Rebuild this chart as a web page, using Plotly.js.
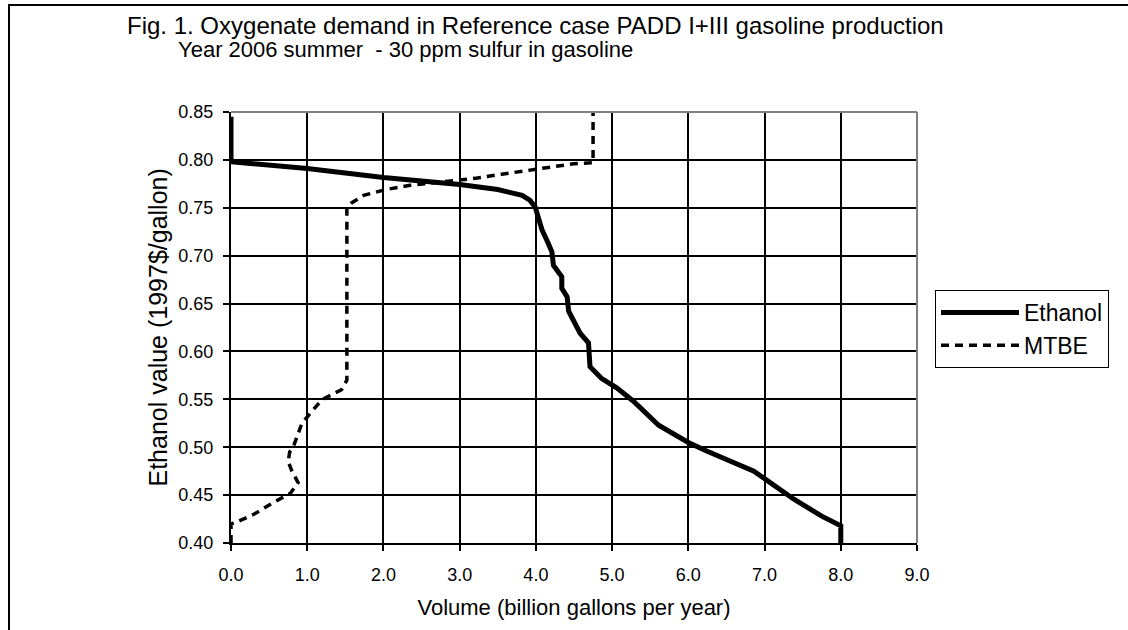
<!DOCTYPE html>
<html>
<head>
<meta charset="utf-8">
<script src="https://cdn.plot.ly/plotly-3.0.1.min.js"></script>
<style>html,body{margin:0;padding:0;background:#fff;}#chart{width:1128px;height:630px;}</style>
</head>
<body>
<div id="chart"></div>
<script>
// Ethanol demand curve (billion gal/yr vs $/gal)
var ethanolVolume = [0, 0, 1, 2, 3, 3.5, 3.82, 3.92, 3.99, 4.03, 4.08, 4.15, 4.21, 4.23, 4.34, 4.34, 4.41, 4.43, 4.58, 4.69, 4.71, 4.86, 5.06, 5.28, 5.61, 6.0, 6.24, 6.86, 7.38, 7.75, 8.0, 8.0];
var ethanolValue  = [0.845, 0.798, 0.791, 0.7817, 0.7744, 0.769, 0.763, 0.758, 0.751, 0.740, 0.727, 0.715, 0.704, 0.690, 0.678, 0.666, 0.657, 0.642, 0.619, 0.609, 0.584, 0.572, 0.562, 0.548, 0.523, 0.505, 0.496, 0.475, 0.446, 0.428, 0.418, 0.40];
// MTBE curve
var mtbeVolume = [0, 0, 0.05, 0.3, 0.55, 0.78, 0.88, 0.8, 0.75, 0.77, 0.83, 0.93, 1.1, 1.2, 1.45, 1.52, 1.52, 1.58, 1.74, 2.03, 2.35, 2.94, 3.23, 3.55, 3.92, 4.21, 4.5, 4.75, 4.75];
var mtbeValue  = [0.40, 0.42, 0.421, 0.43, 0.442, 0.452, 0.463, 0.475, 0.485, 0.495, 0.503, 0.525, 0.541, 0.55, 0.56, 0.57, 0.751, 0.755, 0.763, 0.769, 0.7735, 0.779, 0.781, 0.785, 0.789, 0.7925, 0.796, 0.797, 0.85];

var xTickVals = [0,1,2,3,4,5,6,7,8,9];
var xTickText = ["0.0","1.0","2.0","3.0","4.0","5.0","6.0","7.0","8.0","9.0"];
var yTickVals = [0.40,0.45,0.50,0.55,0.60,0.65,0.70,0.75,0.80,0.85];
var yTickText = ["0.40","0.45","0.50","0.55","0.60","0.65","0.70","0.75","0.80","0.85"];

var titleLine1 = "Fig. 1. Oxygenate demand in Reference case PADD I+III gasoline production";
var titleLine2 = "Year 2006 summer  - 30 ppm sulfur in gasoline";
var xTitle = "Volume (billion gallons per year)";
var yTitle = "Ethanol value (1997$/gallon)";

var FONT = "Liberation Sans, Arial, sans-serif";

var traces = [
  {x: ethanolVolume, y: ethanolValue, mode: "lines", name: "Ethanol",
   line: {color: "#000", width: 5}},
  {x: mtbeVolume, y: mtbeValue, mode: "lines", name: "MTBE",
   line: {color: "#000", width: 3.5, dash: "8px,6px"}}
];

var W = 1128, H = 630, L = 231, R = 211, T = 112, B = 87;
var pw = W - L - R, ph = H - T - B;
function px(xp){ return (xp - L) / pw; }
function py(yp){ return (H - B - yp) / ph; }

var layout = {
  width: W, height: H,
  margin: {l: L, r: R, t: T, b: B, autoexpand: false},
  paper_bgcolor: "#fff", plot_bgcolor: "#fff",
  font: {family: FONT, color: "#000", size: 18},
  showlegend: true,
  legend: {x: px(935), y: py(290), xanchor: "left", yanchor: "top", bordercolor: "#000", borderwidth: 1,
           bgcolor: "#fff", font: {size: 23, family: FONT}, itemwidth: 78, tracegroupgap: 0},
  xaxis: {range: [0, 9], tickvals: xTickVals, ticktext: xTickText, showgrid: true, gridcolor: "#000", gridwidth: 2,
          zeroline: false, showline: true, linecolor: "#000", linewidth: 2, ticks: "outside", ticklen: 6,
          tickwidth: 2, tickcolor: "#000", mirror: false, tickfont: {size: 18}, ticklabelstandoff: 8,
          title: {text: xTitle, font: {size: 22}, standoff: 16}},
  yaxis: {range: [0.40, 0.85], tickvals: yTickVals, ticktext: yTickText, showgrid: true, gridcolor: "#000", gridwidth: 2,
          zeroline: false, showline: true, linecolor: "#000", linewidth: 2, ticks: "outside", ticklen: 6,
          tickwidth: 2, tickcolor: "#000", tickfont: {size: 18}, ticklabelstandoff: 6},
  annotations: [
    {text: titleLine1, xref: "paper", yref: "paper", x: px(535), y: py(25), xanchor: "center", yanchor: "middle",
     showarrow: false, font: {size: 24, family: FONT}},
    {text: titleLine2, xref: "paper", yref: "paper", x: px(176), y: py(50), xanchor: "left", yanchor: "middle",
     showarrow: false, font: {size: 22, family: FONT}},
    {text: yTitle, xref: "paper", yref: "paper", x: px(157), y: 0.5, xanchor: "center", yanchor: "middle",
     textangle: -90, showarrow: false, font: {size: 25, family: FONT}}
  ],
  shapes: [
    // gray plot-area border top & right
    {type: "line", xref: "paper", yref: "paper", x0: 0, x1: 1, y0: 1, y1: 1, line: {color: "#808080", width: 2}, layer: "above"},
    {type: "line", xref: "paper", yref: "paper", x0: 1, x1: 1, y0: 0, y1: 1, line: {color: "#808080", width: 2}, layer: "above"},
    // outer chart frame
    {type: "rect", xref: "paper", yref: "paper", x0: px(9), x1: px(1200), y0: py(5), y1: py(700), line: {color: "#000", width: 2}, fillcolor: "rgba(0,0,0,0)"}
  ]
};

Plotly.newPlot("chart", traces, layout, {staticPlot: true});
</script>
</body>
</html>
